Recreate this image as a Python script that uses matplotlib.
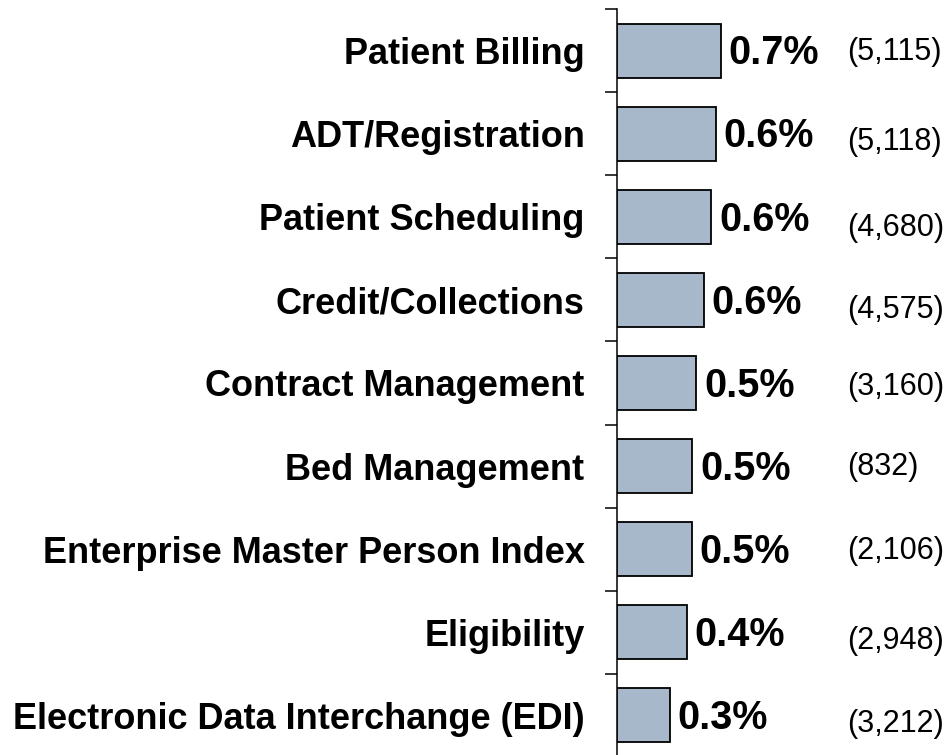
import matplotlib
matplotlib.use("Agg")
import matplotlib.pyplot as plt
import numpy as np

categories = ["Patient Billing", "ADT/Registration", "Patient Scheduling",
              "Credit/Collections", "Contract Management", "Bed Management",
              "Enterprise Master Person Index", "Eligibility",
              "Electronic Data Interchange (EDI)"]
values = [0.660, 0.627, 0.601, 0.553, 0.506, 0.481, 0.479, 0.447, 0.338]
counts = ["(5,115)", "(5,118)", "(4,680)", "(4,575)", "(3,160)", "(832)",
          "(2,106)", "(2,948)", "(3,212)"]
# vertical nudges (points) of the count labels, as in the original layout
count_dy = [-1, -6, -8, -7, -3, -1, -1.5, -6, -6]

plt.rcParams['font.family'] = ['Liberation Sans', 'DejaVu Sans']

fig = plt.figure(figsize=(9.52, 7.55), dpi=100)
ax = fig.add_axes([616.5 / 952, -2 / 755, 1 - 616.5 / 952, 748 / 755])

n = len(categories)
y = np.arange(n)
ax.barh(y, values, height=0.65, color="#A8B8CB", edgecolor="black",
        linewidth=1.3, zorder=3)
ax.set_ylim(n - 0.5, -0.5)
ax.set_xlim(0, (952 - 616.5) / 158)

ax.set_yticks(y)
ax.set_yticklabels(categories, fontsize=26, fontweight="bold")
ax.tick_params(axis="y", which="major", length=0, pad=23)
ax.set_yticks(np.arange(-0.5, n + 0.5, 1), minor=True)
ax.tick_params(axis="y", which="minor", length=8.5, width=1.1, direction="out")
ax.set_xticks([])

for s in ["top", "right", "bottom"]:
    ax.spines[s].set_visible(False)
ax.spines["left"].set_linewidth(1.1)

for i, (v, c) in enumerate(zip(values, counts)):
    ax.annotate(f"{v:.1f}%", xy=(v, i), xytext=(5.5, -2), textcoords="offset points",
                ha="left", va="center", fontsize=28.5, fontweight="bold",
                annotation_clip=False)
    ax.annotate(c, xy=(0, i), xytext=((847 - 616.5) * 0.72, count_dy[i]),
                textcoords="offset points", ha="left", va="center",
                fontsize=22, annotation_clip=False)

fig.savefig("out.png", dpi=100)
